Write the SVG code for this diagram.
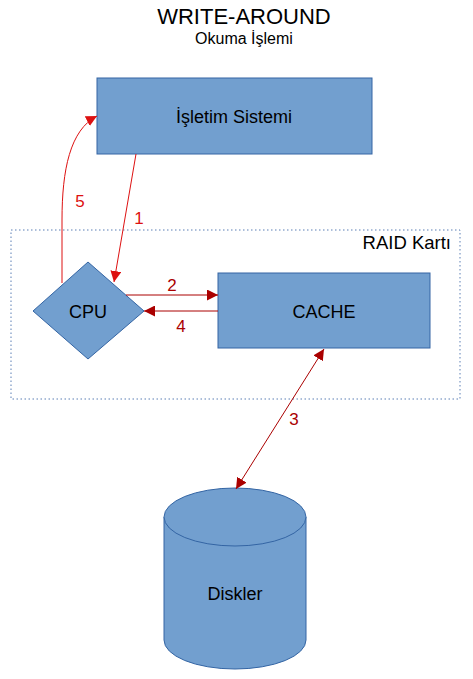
<svg xmlns="http://www.w3.org/2000/svg" width="473" height="679" viewBox="0 0 473 679">
<defs>
<style>
text{font-family:"Liberation Sans",Arial,sans-serif;fill:#000}
.node{fill:#729fcf;stroke:#3465a4;stroke-width:1}
.lbl{font-size:18px;text-anchor:middle}
.red{stroke:#dd1111;stroke-width:1;fill:none}
.dred{stroke:#aa0000;stroke-width:1;fill:none}
.nr{fill:#dd1111;font-size:17px;text-anchor:middle}
.nd{fill:#aa0000;font-size:17px;text-anchor:middle}
</style>
<marker id="ar" viewBox="0 0 10 10" refX="10" refY="5" markerWidth="11" markerHeight="11" markerUnits="userSpaceOnUse" orient="auto"><path d="M0,0L10,5L0,10z" fill="#dd1111"/></marker>
<marker id="ad" viewBox="0 0 10 10" refX="10" refY="5" markerWidth="11" markerHeight="11" markerUnits="userSpaceOnUse" orient="auto"><path d="M0,0L10,5L0,10z" fill="#aa0000"/></marker>
<marker id="ads" viewBox="0 0 10 10" refX="10" refY="5" markerWidth="11" markerHeight="11" markerUnits="userSpaceOnUse" orient="auto-start-reverse"><path d="M0,0L10,5L0,10z" fill="#aa0000"/></marker>
</defs>
<g id="title">
<text x="244" y="24" font-size="22" text-anchor="middle">WRITE-AROUND</text>
<text x="244" y="43.5" font-size="16" text-anchor="middle">Okuma İşlemi</text>
</g>
<g id="raid">
<rect x="11" y="230" width="449" height="169" fill="none" stroke="#5b7fb5" stroke-width="1" stroke-dasharray="1.5,2.5"/>
<text x="451" y="249" font-size="18.5" text-anchor="end">RAID Kartı</text>
</g>
<g id="os">
<rect class="node" x="97" y="78" width="275" height="76"/>
<text class="lbl" x="234" y="123">İşletim Sistemi</text>
</g>
<g id="cpu">
<path class="node" d="M88,262L144,311L88,359L33,311Z"/>
<text class="lbl" x="88" y="318">CPU</text>
</g>
<g id="cache">
<rect class="node" x="218" y="273" width="212" height="75"/>
<text class="lbl" x="324" y="318">CACHE</text>
</g>
<g id="disks">
<path class="node" d="M164,517L164,640A71,29 0 0 0 306,640L306,517A71,29 0 0 0 164,517Z"/>
<path class="node" d="M164,517A71,29 0 0 0 306,517" fill="none"/>
<text class="lbl" x="235" y="600">Diskler</text>
</g>
<g id="connectors">
<path class="red" d="M136,154L114,282" marker-end="url(#ar)"/>
<path class="red" d="M62,283L62,220C62,170 70,130 97,116" marker-end="url(#ar)"/>
<path class="dred" d="M126,295L218,295" marker-end="url(#ad)"/>
<path class="dred" d="M218,311L144,311" marker-end="url(#ad)"/>
<path class="dred" d="M324,349L236,489" marker-start="url(#ads)" marker-end="url(#ad)"/>
<text class="nr" x="139" y="224">1</text>
<text class="nr" x="80" y="207">5</text>
<text class="nd" x="172" y="291">2</text>
<text class="nd" x="181" y="332">4</text>
<text class="nd" x="294" y="425">3</text>
</g>
</svg>
